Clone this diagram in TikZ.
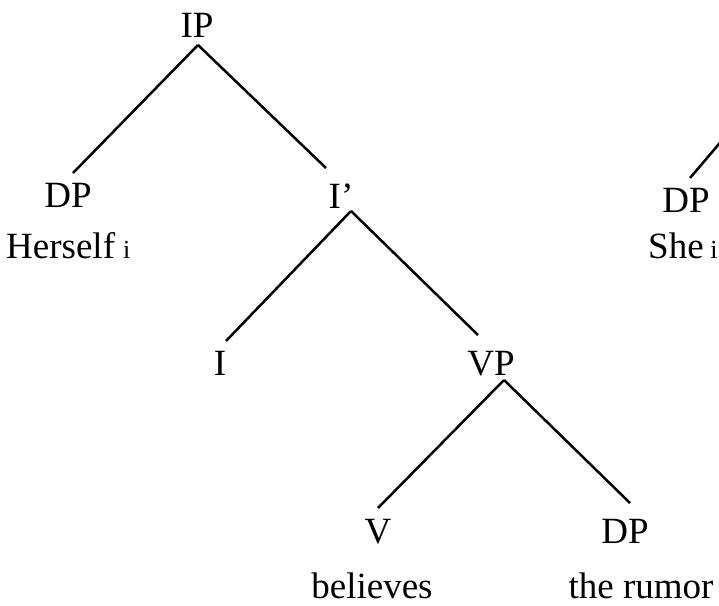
\documentclass[tikz,border=0pt]{standalone}
\usepackage{fontspec}
\setmainfont{Liberation Serif}
\begin{document}
\begin{tikzpicture}[x=1pt,y=1pt,
  lbl/.style={inner sep=0pt, anchor=base, font=\fontsize{37}{44}\selectfont},
  lblw/.style={lbl, anchor=base west},
  branch/.style={line width=2.5pt, black}]
  \clip (0,0) rectangle (719,-605);
  \fill[white] (0,0) rectangle (719,-605);

  % category labels
  \node[lbl] (IP)   at (197,-37)  {IP};
  \node[lbl] (DPa)  at (68,-207)  {DP};
  \node[lbl] (Ibar) at (341,-208) {I’};
  \node[lbl] (I)    at (220,-375) {I};
  \node[lbl] (VP)   at (491,-375) {VP};
  \node[lbl] (V)    at (378,-543) {V};
  \node[lbl] (DPb)  at (625,-543) {DP};
  \node[lbl] (DPc)  at (686,-212) {DP};

  % words
  \node[lblw] (herself) at (6,-258)
    {Herself\hspace{0.22em}{\fontsize{26}{30}\selectfont i}};
  \node[lblw] (she) at (648,-258)
    {She\hspace{0.18em}{\fontsize{26}{30}\selectfont i}};
  \node[lbl] (believes) at (372,-598) {believes};
  \node[lbl] (rumor)    at (641,-598) {the rumor};

  % branches
  \draw[branch] ([shift={(1,-8)}]IP.base)    -- ([shift={(5,34)}]DPa.base);
  \draw[branch] ([shift={(1,-8)}]IP.base)    -- ([shift={(-15,40)}]Ibar.base);
  \draw[branch] ([shift={(10,-3)}]Ibar.base) -- ([shift={(6,34)}]I.base);
  \draw[branch] ([shift={(10,-3)}]Ibar.base) -- ([shift={(-13,40)}]VP.base);
  \draw[branch] ([shift={(13,-5)}]VP.base)   -- ([shift={(0,35)}]V.base);
  \draw[branch] ([shift={(13,-5)}]VP.base)   -- ([shift={(5,40)}]DPb.base);

  % branch of the neighbouring tree, running off the edge
  \coordinate (offedge) at (730,-131);
  \draw[branch] ([shift={(4,34)}]DPc.base) -- (offedge);
\end{tikzpicture}
\end{document}
